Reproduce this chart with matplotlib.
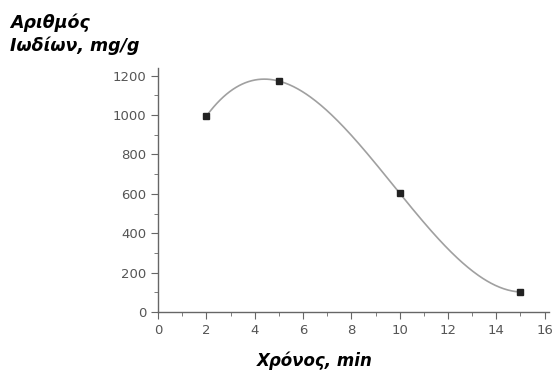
import numpy as np
import matplotlib
matplotlib.use("Agg")
import matplotlib.pyplot as plt
from matplotlib.ticker import MultipleLocator

# data
time_min = [2, 5, 10, 15]
iodine_mg_g = [995, 1172, 603, 102]
x_ticks = [0, 2, 4, 6, 8, 10, 12, 14, 16]
y_ticks = [0, 200, 400, 600, 800, 1000, 1200]
y_label = "Αριθμός\nΙωδίων, mg/g"
x_label = "Χρόνος, min"

fig = plt.figure(figsize=(5.55, 3.76), dpi=100)
ax = fig.add_axes([0.285, 0.17, 0.705, 0.65])

# smooth connecting curve (cubic through the four measured points)
coef = np.polyfit(time_min, iodine_mg_g, 3)
xs = np.linspace(time_min[0], time_min[-1], 300)
ax.plot(xs, np.polyval(coef, xs), color="#a0a0a0", lw=1.2, zorder=2)
ax.plot(time_min, iodine_mg_g, "s", color="#222222", ms=4.5, zorder=3)

ax.set_xlim(0, 16.2)
ax.set_ylim(0, 1240)
ax.set_xticks(x_ticks)
ax.set_yticks(y_ticks)
ax.xaxis.set_minor_locator(MultipleLocator(1))
ax.yaxis.set_minor_locator(MultipleLocator(100))
for s in ["top", "right"]:
    ax.spines[s].set_visible(False)
for s in ["left", "bottom"]:
    ax.spines[s].set_color("#666666")
    ax.spines[s].set_linewidth(1.0)
ax.tick_params(which="major", direction="out", length=5, color="#666666",
               labelcolor="#555555", labelsize=9.5)
ax.tick_params(which="minor", direction="out", length=3, color="#666666")

fig.text(0.018, 0.965, y_label, ha="left", va="top", fontsize=12.5,
         fontweight="bold", fontstyle="italic", color="black", linespacing=1.35)
fig.text(0.568, 0.015, x_label, ha="center", va="bottom", fontsize=12,
         fontweight="bold", fontstyle="italic", color="black")

fig.savefig("out.png", dpi=100)
